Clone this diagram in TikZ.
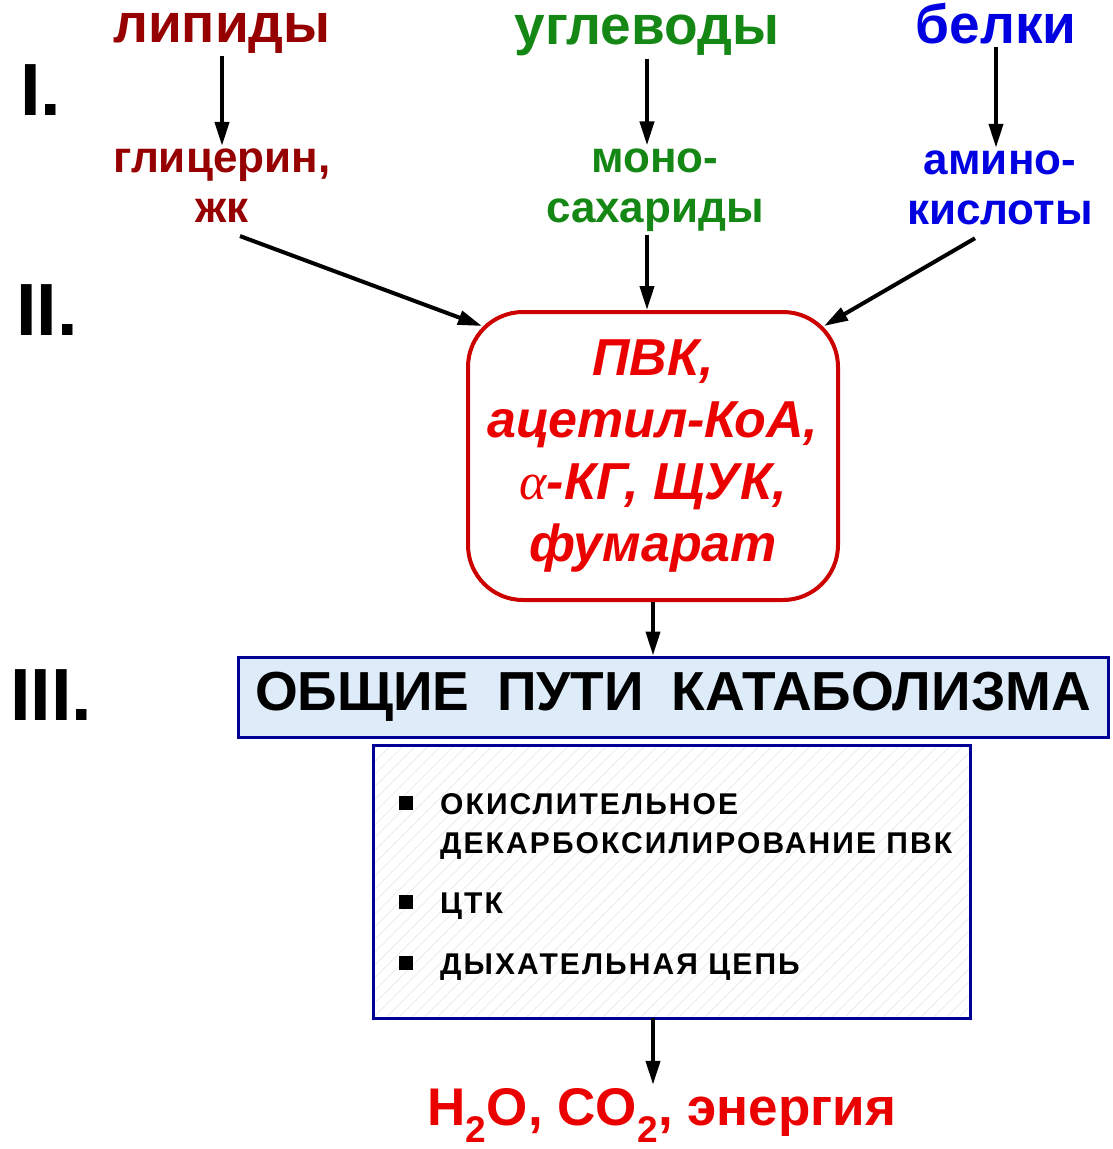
\documentclass[tikz,border=0pt]{standalone}
\usepackage{xcolor}
\usepackage{fontspec}
\setmainfont{Liberation Sans}
\newfontfamily\greekfont{Liberation Serif}
\usetikzlibrary{arrows.meta,calc,patterns.meta}

\definecolor{lipidred}{RGB}{150,0,0}
\definecolor{carbgreen}{RGB}{20,135,20}
\definecolor{protblue}{RGB}{0,0,225}
\definecolor{boxred}{RGB}{205,0,0}
\definecolor{textred}{RGB}{235,0,0}
\definecolor{headblue}{RGB}{0,0,150}
\definecolor{headfill}{RGB}{222,236,250}

\tikzset{
  arr/.style={-{Triangle[length=24pt,width=14pt]}, line width=4pt},
  src/.style={anchor=base, inner sep=3pt, font=\bfseries\fontsize{55}{60}\selectfont},
  prod/.style={align=center, inner sep=3pt, font=\bfseries\fontsize{44}{50}\selectfont},
  roman/.style={anchor=base west, inner sep=0pt, font=\bfseries\fontsize{74}{80}\selectfont},
  pvkbox/.style={draw=boxred, line width=4pt, rounded corners=55pt, minimum width=370pt,
    minimum height=288pt, align=center, text=textred, font=\bfseries\itshape\fontsize{52}{62}\selectfont},
  headbox/.style={draw=headblue, fill=headfill, line width=3pt, minimum width=870pt,
    minimum height=80pt, inner sep=0pt, font=\bfseries\fontsize{55}{60}\selectfont},
  listbox/.style={draw=headblue, line width=3pt, minimum width=597pt, minimum height=273pt,
    pattern={Lines[angle=45,distance=9pt,line width=0.7pt]}, pattern color=black!9},
  bul/.style={fill=black, minimum size=14pt, inner sep=0pt},
  item/.style={anchor=base west, inner sep=0pt,
    font=\bfseries\fontsize{30}{34}\selectfont\addfontfeatures{LetterSpace=7}},
  res/.style={anchor=base, inner sep=3pt, text=textred, font=\bfseries\fontsize{53}{58}\selectfont}
}

\begin{document}
\begin{tikzpicture}[x=1pt,y=1pt,yscale=-1,xscale=1]
\useasboundingbox (0,0) rectangle (1113,1149);

% Text Node
\node [roman] (r1) at (20,115) {I.};
% Text Node
\node [roman] (r2) at (16,335) {II.};
% Text Node
\node [roman] (r3) at (10,720) {III.};

% Text Node
\node [src, text=lipidred] (lip) at (222,42) {липиды};
% Text Node
\node [src, text=carbgreen] (ugl) at (647,44) {углеводы};
% Text Node
\node [src, text=protblue] (bel) at (996,43) {белки};

% Text Node
\node [prod, text=lipidred] (gly) at (222,186) {глицерин,\\жк};
% Text Node
\node [prod, text=carbgreen] (mono) at (655,190) {моно-\\сахариды};
% Text Node
\node [prod, text=protblue] (amino) at (1000,188) {амино-\\кислоты};

%Rounded Rect
\node [pvkbox] (pvk) at (653,456) {ПВК,\\ацетил-КоА,\\{\greekfont\mdseries α}-КГ, ЩУК,\\фумарат};

%Shape: Rectangle
\node [headbox] (head) at (673,697) {ОБЩИЕ\hspace{0.5em}ПУТИ\hspace{0.5em}КАТАБОЛИЗМА};

%Shape: Rectangle
\node [listbox] (lst) at (671.5,881.5) {};
\node [bul] (b1) at (406,803) {};
\node [item] (t1) at (440,814) {ОКИСЛИТЕЛЬНОЕ};
\node [item] (t2) at (440,853) {ДЕКАРБОКСИЛИРОВАНИЕ ПВК};
\node [bul] (b2) at (406,902) {};
\node [item] (t3) at (440,913) {ЦТК};
\node [bul] (b3) at (406,963) {};
\node [item] (t4) at (440,974) {ДЫХАТЕЛЬНАЯ ЦЕПЬ};

% Text Node
\node [res] (out) at (662,1125) {H\textsubscript{2}O, CO\textsubscript{2}, энергия};

%Straight Lines
\draw [arr] (lip.south) -- (gly.north -| lip.south);
\draw [arr] (ugl.south) -- (mono.north -| ugl.south);
\draw [arr] (bel.south) -- (amino.north -| bel.south);
\draw [arr] ([xshift=18pt,yshift=10pt]gly.south) -- ($(pvk.north west)+(16,16)$);
\draw [arr] (mono.south -| ugl.south) -- (pvk.north -| ugl.south);
\draw [arr] ([xshift=-25pt,yshift=10pt]amino.south) -- ($(pvk.north east)+(-16,16)$);
\draw [arr] (pvk.south) -- (head.north -| pvk.south);
\draw [arr] (lst.south -| pvk.south) -- (out.north -| pvk.south);
\end{tikzpicture}
\end{document}
